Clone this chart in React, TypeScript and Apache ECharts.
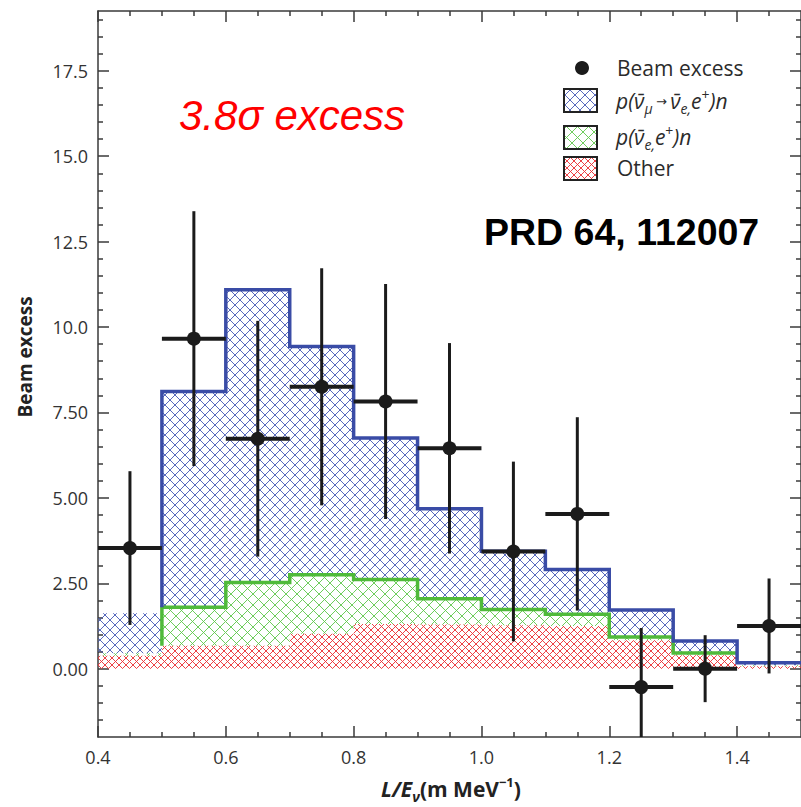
import React, { useEffect, useRef } from "react";
import * as echarts from "echarts";

// ---------- data ----------
const binEdges = [0.4, 0.5, 0.6, 0.7, 0.8, 0.9, 1.0, 1.1, 1.2, 1.3, 1.4, 1.5];
// stacked components per bin (bottom -> top)
const otherVals = [0.38, 0.67, 0.67, 1.02, 1.31, 1.29, 1.27, 1.25, 0.83, 0.39, 0.07];
const nuebarVals = [0.07, 1.13, 1.85, 1.73, 1.3, 0.76, 0.46, 0.34, 0.1, 0.07, 0.03];
const oscVals = [1.17, 6.31, 8.57, 6.68, 4.14, 2.63, 1.71, 1.31, 0.79, 0.35, 0.07];

const excessX = [0.45, 0.55, 0.65, 0.75, 0.85, 0.95, 1.05, 1.15, 1.25, 1.35, 1.45];
const excessY = [3.53, 9.66, 6.73, 8.25, 7.82, 6.45, 3.43, 4.53, -0.54, 0.0, 1.25];
const excessErr = [2.25, 3.73, 3.45, 3.47, 3.44, 3.08, 2.63, 2.83, 1.73, 0.98, 1.39];
const excessXHalf = 0.05;

const xMajorTicks = [0.4, 0.6, 0.8, 1.0, 1.2, 1.4];
const xMinorTicks = [0.45, 0.5, 0.55, 0.65, 0.7, 0.75, 0.85, 0.9, 0.95, 1.05, 1.1, 1.15, 1.25, 1.3, 1.35, 1.45];
const yMajorTicks = [0, 2.5, 5, 7.5, 10, 12.5, 15, 17.5];
const yMinorTicks = [-1.5, -1, -0.5, 0.5, 1, 1.5, 2, 3, 3.5, 4, 4.5, 5.5, 6, 6.5, 7, 8, 8.5, 9, 9.5,
  10.5, 11, 11.5, 12, 13, 13.5, 14, 14.5, 15.5, 16, 16.5, 17, 18, 18.5, 19];

const legendNames = ["Beam excess", "osc", "nuebar", "Other"];

// ---------- helpers ----------
const FONT = '"Open Sans", "DejaVu Sans", sans-serif';
const AXIS = "#3a3a3a";
const BLUE = "#3a4ca6";
const GREEN = "#4fba3a";

function makeHatch(color: string, size: number, lw: number) {
  const c = document.createElement("canvas");
  c.width = size;
  c.height = size;
  const ctx = c.getContext("2d")!;
  ctx.strokeStyle = color;
  ctx.lineWidth = lw;
  ctx.beginPath();
  for (const o of [-size, 0, size]) {
    ctx.moveTo(o - 1, -1);
    ctx.lineTo(o + size + 1, size + 1);
    ctx.moveTo(o - 1, size + 1);
    ctx.lineTo(o + size + 1, -1);
  }
  ctx.stroke();
  return { image: c, repeat: "repeat", imageWidth: size, imageHeight: size } as any;
}

export default function App() {
  const ref = useRef<HTMLDivElement>(null);

  useEffect(() => {
    if (!ref.current) return;
    const chart = echarts.init(ref.current, null, { renderer: "svg" });

    const bluePat = makeHatch("rgba(60,80,178,0.85)", 10, 1);
    const greenPat = makeHatch("rgba(95,200,75,0.9)", 11, 1);
    const redPat = makeHatch("rgba(235,45,50,0.9)", 7, 1);

    const greenTop = otherVals.map((v, i) => v + nuebarVals[i]);
    const total = greenTop.map((v, i) => v + oscVals[i]);

    const layer = (lo: number[], hi: number[]) =>
      lo.map((l, i) => [binEdges[i], binEdges[i + 1], l, hi[i]]);

    const rectRender = (pat: any) => (params: any, api: any) => {
      const x0 = api.value(0), x1 = api.value(1), lo = api.value(2), hi = api.value(3);
      const p1 = api.coord([x0, hi]);
      const p2 = api.coord([x1, lo]);
      return {
        type: "rect",
        shape: { x: p1[0], y: p1[1], width: p2[0] - p1[0], height: p2[1] - p1[1] },
        style: { fill: pat },
      };
    };

    const blueLine: number[][] = [[binEdges[1], greenTop[1]]];
    for (let i = 1; i < total.length; i++) {
      blueLine.push([binEdges[i], total[i]], [binEdges[i + 1], total[i]]);
    }
    const greenLine: number[][] = [[binEdges[1], otherVals[1]]];
    for (let i = 1; i < greenTop.length - 1; i++) {
      greenLine.push([binEdges[i], greenTop[i]], [binEdges[i + 1], greenTop[i]]);
    }

    const xBase = (pos: string, ticks: number[], len: number, labels: boolean, line: boolean) => ({
      type: "value",
      min: 0.4,
      max: 1.5,
      position: pos,
      axisLine: { show: line, onZero: false, lineStyle: { color: AXIS, width: 1.5 } },
      axisTick: { show: true, inside: true, length: len, customValues: ticks, lineStyle: { color: AXIS, width: 1.5 } },
      axisLabel: labels
        ? { show: true, customValues: xMajorTicks, margin: 11, fontSize: 18, color: "#333", fontFamily: FONT, formatter: (v: number) => v.toFixed(1) }
        : { show: false },
      splitLine: { show: false },
    });
    const yBase = (pos: string, ticks: number[], len: number, labels: boolean, line: boolean) => ({
      type: "value",
      min: -2,
      max: 19.25,
      position: pos,
      axisLine: { show: line, onZero: false, lineStyle: { color: AXIS, width: 1.5 } },
      axisTick: { show: true, inside: true, length: len, customValues: ticks, lineStyle: { color: AXIS, width: 1.5 } },
      axisLabel: labels
        ? { show: true, customValues: yMajorTicks, margin: 10, fontSize: 18, color: "#333", fontFamily: FONT, formatter: (v: number) => v.toPrecision(3) }
        : { show: false },
      splitLine: { show: false },
    });

    const legendText = "#2b2b2b";
    const richMath = {
      i: { fontFamily: FONT, fontStyle: "italic", fontSize: 21, lineHeight: 28, fill: legendText },
      s: { fontFamily: FONT, fontStyle: "italic", fontSize: 14, lineHeight: 10, verticalAlign: "bottom", fill: legendText },
      p: { fontFamily: FONT, fontSize: 14, lineHeight: 14, verticalAlign: "top", fill: legendText },
      ar: { fontFamily: FONT, fontSize: 13, lineHeight: 28, fill: legendText },
    };

    const option: any = {
      animation: false,
      backgroundColor: "#ffffff",
      grid: { left: 98, right: -7, top: 11, bottom: 70, containLabel: false },
      xAxis: [
        xBase("bottom", xMajorTicks, 11, true, true),
        xBase("bottom", xMinorTicks, 5, false, false),
        xBase("top", xMajorTicks, 11, false, true),
        xBase("top", xMinorTicks, 5, false, false),
      ],
      yAxis: [
        yBase("left", yMajorTicks, 11, true, true),
        yBase("left", yMinorTicks, 5, false, false),
        yBase("right", yMajorTicks, 11, false, true),
        yBase("right", yMinorTicks, 5, false, false),
      ],
      series: [
        { type: "custom", name: legendNames[3], renderItem: rectRender(redPat), data: layer(otherVals.map(() => 0), otherVals), encode: { x: [0, 1], y: [2, 3] }, clip: true, z: 1 },
        { type: "custom", name: legendNames[2], renderItem: rectRender(greenPat), data: layer(otherVals, greenTop), encode: { x: [0, 1], y: [2, 3] }, clip: true, z: 1 },
        { type: "custom", name: legendNames[1], renderItem: rectRender(bluePat), data: layer(greenTop, total), encode: { x: [0, 1], y: [2, 3] }, clip: true, z: 1 },
        { type: "line", data: greenLine, symbol: "none", lineStyle: { color: GREEN, width: 3.5, join: "miter", cap: "butt" }, z: 3 },
        { type: "line", data: blueLine, symbol: "none", lineStyle: { color: BLUE, width: 3.5, join: "miter", cap: "butt" }, z: 3 },
        {
          type: "custom",
          name: legendNames[0],
          clip: true,
          z: 5,
          data: excessX.map((x, i) => [x, excessY[i], excessErr[i]]),
          encode: { x: 0, y: 1 },
          renderItem: (params: any, api: any) => {
            const x = api.value(0), y = api.value(1), e = api.value(2);
            const l = api.coord([x - excessXHalf, y]);
            const r = api.coord([x + excessXHalf, y]);
            const t = api.coord([x, y + e]);
            const b = api.coord([x, y - e]);
            const c = api.coord([x, y]);
            return {
              type: "group",
              children: [
                { type: "line", shape: { x1: t[0], y1: t[1], x2: b[0], y2: b[1] }, style: { stroke: "#1b1b1b", lineWidth: 3 } },
                { type: "line", shape: { x1: l[0], y1: l[1], x2: r[0], y2: r[1] }, style: { stroke: "#1b1b1b", lineWidth: 4 } },
                { type: "circle", shape: { cx: c[0], cy: c[1], r: 7 }, style: { fill: "#1b1b1b" } },
              ],
            };
          },
        },
      ],
      graphic: [
        // legend
        { type: "circle", shape: { cx: 582, cy: 68, r: 7 }, style: { fill: "#1b1b1b" }, z: 10 },
        { type: "rect", shape: { x: 564, y: 89, width: 33, height: 23 }, style: { fill: bluePat, stroke: "#222", lineWidth: 2 }, z: 10 },
        { type: "rect", shape: { x: 564, y: 126, width: 33, height: 23 }, style: { fill: greenPat, stroke: "#222", lineWidth: 2 }, z: 10 },
        { type: "rect", shape: { x: 564, y: 157, width: 33, height: 23 }, style: { fill: redPat, stroke: "#222", lineWidth: 2 }, z: 10 },
        { type: "text", x: 617, y: 68, z: 10, style: { text: "Beam excess", font: `21px ${FONT}`, fill: legendText, textVerticalAlign: "middle" } },
        {
          type: "text", x: 616, y: 101, z: 10,
          style: {
            text: "{i|p(ν\u0304}{s|μ}{ar| → }{i|ν\u0304}{s|e,}{i|e}{p|+}{i|)n}",
            rich: richMath, textVerticalAlign: "middle", fill: legendText,
          },
        },
        {
          type: "text", x: 616, y: 137, z: 10,
          style: {
            text: "{i|p(ν\u0304}{s|e,}{i|e}{p|+}{i|)n}",
            rich: richMath, textVerticalAlign: "middle", fill: legendText,
          },
        },
        { type: "text", x: 617, y: 168, z: 10, style: { text: "Other", font: `21px ${FONT}`, fill: legendText, textVerticalAlign: "middle" } },
        // annotations
        { type: "text", x: 179, y: 115, z: 10, style: { text: "3.8σ excess", font: `italic 42px "Liberation Sans", Arial, sans-serif`, fill: "#ff0000", textVerticalAlign: "middle" } },
        { type: "text", x: 484, y: 232, z: 10, style: { text: "PRD 64, 112007", font: `bold 37.5px "Liberation Sans", Arial, sans-serif`, fill: "#000", textVerticalAlign: "middle" } },
        // axis titles
        {
          type: "text", x: 451, y: 789, z: 10,
          style: {
            text: "{bi|L/E}{s|ν}{b|(m MeV}{p|−1}{b|)}",
            textAlign: "center", textVerticalAlign: "middle",
            rich: {
              bi: { fontFamily: FONT, fontWeight: "bold", fontStyle: "italic", fontSize: 21, lineHeight: 28, fill: "#222" },
              s: { fontFamily: FONT, fontWeight: "bold", fontStyle: "italic", fontSize: 14, lineHeight: 8, verticalAlign: "bottom", fill: "#222" },
              b: { fontFamily: FONT, fontWeight: "bold", fontSize: 21, lineHeight: 28, fill: "#222" },
              p: { fontFamily: FONT, fontWeight: "bold", fontSize: 13, lineHeight: 14, verticalAlign: "top", fill: "#222" },
            },
          },
        },
        {
          type: "text", x: 25, y: 357, rotation: Math.PI / 2, z: 10,
          style: { text: "Beam excess", font: `bold 19px ${FONT}`, fill: "#222", textAlign: "center", textVerticalAlign: "middle" },
        },
      ],
    };

    chart.setOption(option);
    return () => chart.dispose();
  }, []);

  return <div ref={ref} style={{ position: "absolute", left: 0, top: 0, width: 801, height: 807 }} />;
}
